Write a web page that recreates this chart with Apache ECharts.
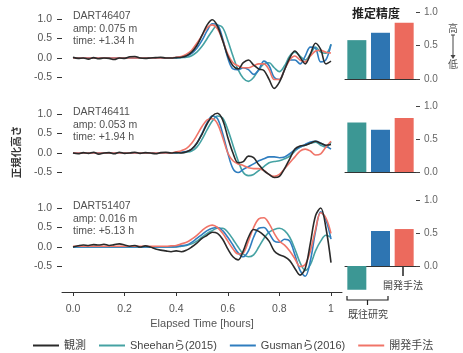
<!DOCTYPE html>
<html>
<head>
<meta charset="utf-8">
<script src="https://cdn.jsdelivr.net/npm/echarts@6/dist/echarts.min.js"></script>
<style>html,body{margin:0;padding:0;background:#fff}#c{width:463px;height:353px}</style>
</head>
<body>
<div id="c"></div>
<script>
// ---- data ----
const time = [0.00,0.02,0.04,0.06,0.08,0.10,0.12,0.14,0.16,0.18,0.20,0.22,0.24,0.26,0.28,0.30,0.32,0.34,0.36,0.38,
  0.40,0.42,0.44,0.46,0.48,0.50,0.52,0.54,0.56,0.58,0.60,0.62,0.64,0.66,0.68,0.70,0.72,0.74,0.76,0.78,
  0.80,0.82,0.84,0.86,0.88,0.90,0.92,0.94,0.96,0.98,1.00];
const xTicks = [0, 0.2, 0.4, 0.6, 0.8, 1];
const yTicks = [-0.5, 0, 0.5, 1];
const barTicks = [0, 0.5, 1];
const seriesNames = ['観測', 'Sheehanら(2015)', 'Gusmanら(2016)', '開発手法'];
const stations = ['DART46407', 'DART46411', 'DART51407'];
const amps = ['amp: 0.075 m', 'amp: 0.053 m', 'amp: 0.016 m'];
const times = ['time: +1.34 h', 'time: +1.94 h', 'time: +5.13 h'];

const obs1 = [0.02,-0.01,0.00,-0.03,0.01,-0.02,0.00,-0.01,-0.04,0.00,-0.01,0.03,0.04,0.00,-0.01,0.00,0.01,0.02,0.00,0.00,
  0.01,0.02,0.06,0.15,0.32,0.58,0.85,0.98,0.82,0.45,0.05,-0.20,-0.28,-0.12,-0.05,-0.18,-0.28,-0.32,-0.55,-0.78,
  -0.62,-0.30,0.00,0.18,0.02,-0.15,0.10,0.38,0.22,-0.15,-0.08];
const sheehan1 = [0,0,0,0,0,0,0,0,0,0,0,0,0,0,0,0,0,0,0,0,
  0.00,0.01,0.02,0.06,0.15,0.30,0.50,0.70,0.84,0.78,0.45,0.05,-0.30,-0.52,-0.60,-0.50,-0.30,-0.15,-0.12,-0.25,
  -0.35,-0.20,0.05,0.15,0.05,-0.05,0.10,0.28,0.15,0.12,0.35];
const gusman1 = [0,0,0,0,0,0,0,0,0,0,0,0,0,0,0,0,0,0,0,0,
  0.01,0.02,0.05,0.12,0.25,0.45,0.70,0.88,0.85,0.50,0.00,-0.28,-0.30,-0.25,-0.30,-0.42,-0.30,-0.08,-0.20,-0.50,
  -0.55,-0.30,-0.05,-0.05,-0.15,0.05,0.28,0.25,-0.10,-0.05,0.35];
const dev1 = [0,0,0,0,0,0,0,0,0,0,0,0,0,0,0,0,0,0,0,0,
  0.02,0.04,0.10,0.20,0.38,0.58,0.78,0.85,0.75,0.45,0.10,-0.12,-0.20,-0.25,-0.25,-0.20,-0.15,-0.15,-0.30,-0.55,
  -0.55,-0.30,-0.05,0.05,-0.05,-0.10,0.05,0.18,0.20,0.15,0.13];

const obs2 = [0.00,-0.02,0.01,-0.01,0.02,-0.03,0.00,0.01,-0.02,0.02,-0.01,0.00,0.02,-0.01,0.01,0.00,-0.02,0.01,0.02,0.00,
  0.01,0.00,0.03,0.10,0.25,0.48,0.75,0.95,1.02,0.85,0.40,0.00,-0.25,-0.22,-0.08,-0.12,-0.30,-0.45,-0.55,-0.63,
  -0.60,-0.40,-0.15,0.10,0.18,0.20,0.25,0.30,0.25,0.20,0.22];
const sheehan2 = [0,0,0,0,0,0,0,0,0,0,0,0,0,0,0,0,0,0,0,0,
  0.00,0.01,0.02,0.05,0.15,0.35,0.60,0.82,0.95,0.90,0.60,0.20,-0.20,-0.50,-0.58,-0.55,-0.45,-0.35,-0.25,-0.22,
  -0.20,-0.15,-0.08,0.05,0.15,0.20,0.25,0.28,0.20,0.15,0.28];
const gusman2 = [0,0,0,0,0,0,0,0,0,0,0,0,0,0,0,0,0,0,0,0,
  0.01,0.02,0.04,0.10,0.25,0.50,0.78,0.95,0.88,0.50,0.00,-0.40,-0.50,-0.42,-0.35,-0.28,-0.20,-0.15,-0.10,-0.10,
  -0.12,-0.10,-0.02,0.08,0.15,0.22,0.28,0.30,0.25,0.18,0.10];
const dev2 = [0,0,0,0,0,0,0,0,0,0,0,0,0,0,0,0,0,0,0,0,
  0.03,0.06,0.12,0.25,0.45,0.68,0.85,0.88,0.75,0.40,0.00,-0.20,-0.28,-0.32,-0.38,-0.40,-0.40,-0.45,-0.55,-0.60,
  -0.55,-0.40,-0.25,-0.10,0.05,0.10,0.05,-0.05,-0.02,0.15,0.30];

const obs3 = [0.00,0.03,0.05,0.04,0.06,0.05,0.07,0.04,0.06,0.08,0.05,0.02,0.04,0.00,0.03,0.00,-0.05,-0.08,-0.10,-0.12,
  -0.10,-0.12,-0.08,0.00,0.10,0.22,0.30,0.38,0.35,0.20,-0.05,-0.25,-0.33,-0.10,0.25,0.45,0.40,0.30,0.15,-0.10,
  -0.20,-0.25,-0.35,-0.55,-0.72,-0.55,0.10,0.80,1.00,0.50,-0.40];
const sheehan3 = [0,0,0,0,0,0,0,0,0,0,0,0,0,0,0,0,0,0,0,0,
  0.00,0.02,0.04,0.08,0.15,0.25,0.35,0.42,0.48,0.48,0.38,0.20,0.00,-0.18,-0.25,-0.20,0.00,0.22,0.38,0.45,
  0.48,0.42,0.25,-0.05,-0.40,-0.60,-0.45,-0.10,0.15,0.30,0.25];
const gusman3 = [0,0,0,0,0,0,0,0,0,0,0,0,0,0,0,0,0,0,0,0,
  0.01,0.03,0.05,0.12,0.22,0.32,0.42,0.48,0.50,0.42,0.25,0.05,-0.15,-0.25,-0.10,0.25,0.48,0.50,0.35,0.15,
  0.12,0.20,0.15,-0.20,-0.60,-0.75,-0.35,0.40,0.90,0.70,0.20];
const dev3 = [0.02,0.02,0.02,0.02,0.02,0.02,0.02,0.02,0.02,0.02,0.02,0.02,0.02,0.02,0.02,0.02,0.02,0.02,0.02,0.03,
  0.04,0.08,0.12,0.20,0.30,0.42,0.52,0.56,0.50,0.35,0.15,-0.05,-0.18,-0.15,0.15,0.50,0.72,0.75,0.60,0.35,
  0.15,0.05,-0.10,-0.30,-0.50,-0.45,-0.10,0.45,0.88,0.75,0.35];

const accuracy1 = [0.58, 0.69, 0.84];
const accuracy2 = [0.75, 0.64, 0.82];
const accuracy3 = [-0.36, 0.53, 0.56];
const barCats = ['Sheehan', 'Gusman', '開発手法'];

// ---- style ----
const lineColors = ['#2a2a2a', '#45a2a3', '#2f7dbf', '#f07468'];
const barColors = ['#3c9794', '#2e75b2', '#ec6a5d'];
const FONT = '"Liberation Sans", "Noto Sans CJK JP", sans-serif';
const JP = '"Noto Sans CJK JP", sans-serif';

const panels = [
  {obs: obs1, s: sheehan1, g: gusman1, d: dev1, bars: accuracy1},
  {obs: obs2, s: sheehan2, g: gusman2, d: dev2, bars: accuracy2},
  {obs: obs3, s: sheehan3, g: gusman3, d: dev3, bars: accuracy3}
];
const lineGrids = [
  {left: 62, right: 121, top: 11.2, height: 85.8},
  {left: 62, right: 121, top: 106.2, height: 85.8},
  {left: 62, right: 121, top: 200.2, height: 85.8}
];
const barGrids = [
  {left: 345, right: 47, top: 12, height: 67},
  {left: 345, right: 47, top: 106, height: 66},
  {left: 345, right: 47, top: 200, height: 92.4}
];
const barRanges = [[0, 1], [0, 1], [-0.4, 1]];

// index 0: an empty, fully hidden helper grid so the three plotted panels start at index 1
const grid = [{left: 0, top: 0, width: 1, height: 1, show: false}];
const xAxis = [{type: 'value', gridIndex: 0, show: false}];
const yAxis = [{type: 'value', gridIndex: 0, show: false}];
const series = [];

panels.forEach((p, k) => {
  const gi = 1 + k;
  grid.push(lineGrids[k]);
  const isBottom = k === 2;
  xAxis.push({
    type: 'value', gridIndex: gi, min: -0.0426, max: 1.0426, offset: isBottom ? 6 : 0,
    show: isBottom,
    splitLine: {show: false},
    axisLine: {show: isBottom, onZero: false, lineStyle: {color: '#333', width: 1}},
    axisTick: {show: isBottom, customValues: xTicks, length: 4, lineStyle: {color: '#333'}},
    axisLabel: {show: isBottom, customValues: xTicks, margin: 12, color: '#555', fontSize: 10.5, fontFamily: FONT,
      formatter: v => (Math.abs(v - 1) < 1e-9 ? '1' : v.toFixed(1))},
    name: isBottom ? 'Elapsed Time [hours]' : '',
    nameLocation: 'middle', nameGap: 26,
    nameTextStyle: {color: '#555', fontSize: 11, fontFamily: FONT}
  });
  yAxis.push({
    type: 'value', gridIndex: gi, min: -1.0, max: 1.2, interval: 0.5, z: 10,
    splitLine: {show: false},
    axisLine: {show: false, onZero: false},
    axisTick: {show: true, customValues: yTicks, length: 5, lineStyle: {color: '#333', width: 1}},
    axisLabel: {margin: 10, color: '#555', fontSize: 10.5, fontFamily: FONT, hideOverlap: false,
      formatter: v => ((v < -0.9 || v > 1.05) ? '' : v.toFixed(1))}
  });
  const sets = [p.obs, p.s, p.g, p.d];
  sets.forEach((arr, j) => {
    series.push({
      name: seriesNames[j], type: 'line', xAxisIndex: gi, yAxisIndex: gi,
      data: time.map((t, i) => [t, arr[i]]),
      symbol: 'none', smooth: 0.35,
      lineStyle: {color: lineColors[j], width: 1.6},
      itemStyle: {color: lineColors[j]},
      z: j === 0 ? 3 : 2
    });
  });
});
panels.forEach((p, k) => {
  const gi = 4 + k;
  grid.push(barGrids[k]);
  xAxis.push({
    type: 'category', gridIndex: gi, data: barCats,
    axisLine: {show: true, onZero: true, lineStyle: {color: '#333', width: 1}},
    axisTick: {show: false}, axisLabel: {show: false}, splitLine: {show: false}
  });
  yAxis.push({
    type: 'value', gridIndex: gi, position: 'right', min: barRanges[k][0], max: barRanges[k][1],
    splitLine: {show: false}, axisLine: {show: false, onZero: false},
    axisTick: {show: true, customValues: barTicks, length: 4, lineStyle: {color: '#444'}},
    axisLabel: {customValues: barTicks, margin: 8, color: '#666', fontSize: 10, fontFamily: FONT,
      formatter: v => v.toFixed(1)}
  });
  series.push({
    type: 'bar', xAxisIndex: gi, yAxisIndex: gi, barWidth: 19,
    data: p.bars.map((v, i) => ({value: v, itemStyle: {color: barColors[i]}})),
    silent: true
  });
});

const graphic = [];
const annTops = [10, 106, 200];
annTops.forEach((y, k) => {
  graphic.push({type: 'text', x: 73, y: y,
    style: {text: stations[k] + '\n' + amps[k] + '\n' + times[k], fill: '#505050', font: '10.5px ' + FONT, lineHeight: 12.5}});
});
graphic.push({type: 'text', x: 16, y: 152, rotation: Math.PI / 2,
  style: {text: '正規化高さ', fill: '#333', font: 'bold 10.5px ' + JP, align: 'center', verticalAlign: 'middle'}});
graphic.push({type: 'text', x: 376, y: 13,
  style: {text: '推定精度', fill: '#222', font: 'bold 12px ' + JP, align: 'center', verticalAlign: 'middle'}});
graphic.push({type: 'text', x: 453, y: 28,
  style: {text: '高', fill: '#555', font: '10px ' + JP, align: 'center', verticalAlign: 'middle'}});
graphic.push({type: 'line', shape: {x1: 453, y1: 35, x2: 453, y2: 57}, style: {stroke: '#444', lineWidth: 1}});
graphic.push({type: 'line', shape: {x1: 451, y1: 35, x2: 455, y2: 35}, style: {stroke: '#444', lineWidth: 1}});
graphic.push({type: 'polygon', shape: {points: [[450.5, 55], [455.5, 55], [453, 59]]}, style: {fill: '#444'}});
graphic.push({type: 'text', x: 453, y: 64,
  style: {text: '低', fill: '#555', font: '10px ' + JP, align: 'center', verticalAlign: 'middle'}});
graphic.push({type: 'line', shape: {x1: 403, y1: 266, x2: 403, y2: 276}, style: {stroke: '#222', lineWidth: 1.5}});
graphic.push({type: 'text', x: 403, y: 285,
  style: {text: '開発手法', fill: '#444', font: '10px ' + JP, align: 'center', verticalAlign: 'middle'}});
graphic.push({type: 'polyline', shape: {points: [[347, 296], [347, 300], [388, 300], [388, 296]]}, style: {stroke: '#222', lineWidth: 1.2, fill: null}});
graphic.push({type: 'line', shape: {x1: 367.5, y1: 300, x2: 367.5, y2: 305}, style: {stroke: '#222', lineWidth: 1.2}});
graphic.push({type: 'text', x: 368, y: 314,
  style: {text: '既往研究', fill: '#444', font: '10px ' + JP, align: 'center', verticalAlign: 'middle'}});

const chart = echarts.init(document.getElementById('c'), null, {renderer: 'canvas'});
chart.setOption({
  animation: false,
  backgroundColor: '#fff',
  textStyle: {fontFamily: FONT},
  grid, xAxis, yAxis, series, graphic,
  legend: {
    data: seriesNames, left: 28, top: 335, itemWidth: 26, itemHeight: 10, itemGap: 13,
    icon: 'path://M0,4 L26,4 L26,6 L0,6 Z',
    textStyle: {color: '#444', fontSize: 11, fontFamily: FONT}
  }
});
</script>
</body>
</html>
